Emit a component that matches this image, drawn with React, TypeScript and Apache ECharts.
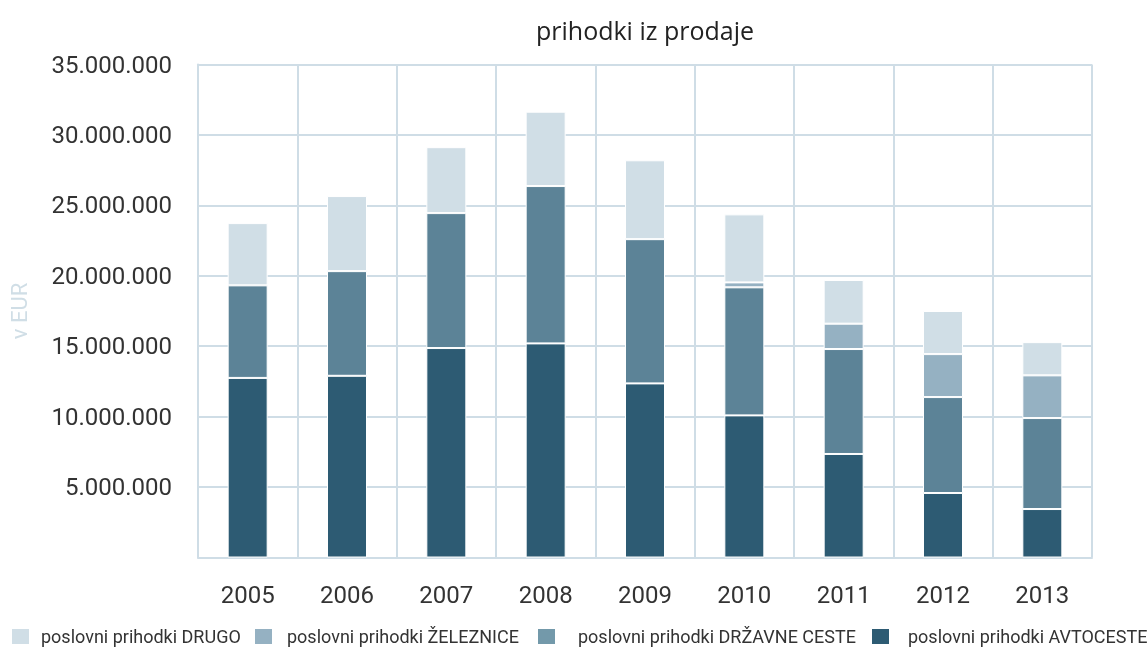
import React, { useEffect, useRef } from "react";
import * as echarts from "echarts";

const years = ["2005", "2006", "2007", "2008", "2009", "2010", "2011", "2012", "2013"];
const avtoceste = [12750000, 12900000, 14870000, 15200000, 12360000, 10090000, 7350000, 4580000, 3440000];
const drzavneCeste = [6570000, 7430000, 9580000, 11170000, 10240000, 9090000, 7450000, 6810000, 6460000];
const zeleznice = [null, null, null, null, null, 350000, 1800000, 3050000, 3030000];
const drugo = [4420000, 5330000, 4680000, 5280000, 5600000, 4830000, 3100000, 3060000, 2360000];
const yTicks = [0, 5000000, 10000000, 15000000, 20000000, 25000000, 30000000, 35000000];

const names = [
  "poslovni prihodki DRUGO",
  "poslovni prihodki ŽELEZNICE",
  "poslovni prihodki DRŽAVNE CESTE",
  "poslovni prihodki AVTOCESTE",
];
const colors = ["#d0dee6", "#95b1c2", "#5c8397", "#2d5b73"];
const legendColors = ["#d0dee6", "#95b1c2", "#7399aa", "#2d5b73"];

const fmt = (v: number) => {
  if (v === 0) return "";
  return String(v).replace(/\B(?=(\d{3})+(?!\d))/g, ".");
};

export default function App() {
  const ref = useRef<HTMLDivElement>(null);
  useEffect(() => {
    if (!ref.current) return;
    const chart = echarts.init(ref.current, null, { renderer: "svg" });
    const gridColor = "#cfdde6";
    const barStyle = (c: string) => ({ color: c, borderColor: "#ffffff", borderWidth: 1 });
    const legendPos = [
      { left: 10, pad: 6 },
      { left: 253, pad: 9 },
      { left: 536, pad: 17 },
      { left: 870, pad: 13 },
    ];
    chart.setOption({
      animation: false,
      title: {
        text: "prihodki iz prodaje",
        left: 640,
        textAlign: "center",
        top: 12,
        textStyle: { fontFamily: "Open Sans", fontSize: 25, fontWeight: "normal", color: "#222" },
      },
      legend: legendPos.map((p, i) => ({
        data: [{ name: names[i], itemStyle: { color: legendColors[i] } }],
        left: p.left,
        top: 627,
        itemWidth: 19,
        itemHeight: 17,
        icon: "rect",
        selectedMode: false,
        padding: 0,
        textStyle: { fontFamily: "Roboto", fontSize: 18, color: "#333", padding: [0, 0, 0, p.pad] },
      })),
      grid: { left: 198, right: 55, top: 64.5, bottom: 91.5, containLabel: false },
      xAxis: {
        type: "category",
        data: years,
        axisLine: { show: true, lineStyle: { color: gridColor, width: 2 } },
        axisTick: { show: false },
        splitLine: { show: true, interval: 0, lineStyle: { color: gridColor, width: 2 } },
        axisLabel: { fontFamily: "Roboto", fontSize: 24, color: "#333", margin: 25 },
      },
      yAxis: {
        type: "value",
        min: 0,
        max: 35000000,
        interval: 5000000,
        name: "v EUR",
        nameLocation: "middle",
        nameGap: 168,
        nameTextStyle: { fontFamily: "Roboto", fontSize: 22, color: "#d0dee6" },
        axisLine: { show: true, lineStyle: { color: gridColor, width: 2 } },
        axisTick: { show: false },
        splitLine: { show: true, lineStyle: { color: gridColor, width: 2 } },
        axisLabel: {
          fontFamily: "Roboto",
          fontSize: 24,
          color: "#333",
          margin: 26,
          formatter: (v: number) => (yTicks.includes(v) ? fmt(v) : ""),
        },
      },
      series: [
        { name: names[3], type: "bar", stack: "t", barWidth: 40, data: avtoceste, itemStyle: barStyle(colors[3]) },
        { name: names[2], type: "bar", stack: "t", barWidth: 40, data: drzavneCeste, itemStyle: barStyle(colors[2]) },
        { name: names[1], type: "bar", stack: "t", barWidth: 40, data: zeleznice, itemStyle: barStyle(colors[1]) },
        { name: names[0], type: "bar", stack: "t", barWidth: 40, data: drugo, itemStyle: barStyle(colors[0]) },
      ],
    });
    return () => chart.dispose();
  }, []);
  return <div ref={ref} style={{ position: "fixed", left: 0, top: 0, width: 1147, height: 649 }} />;
}
